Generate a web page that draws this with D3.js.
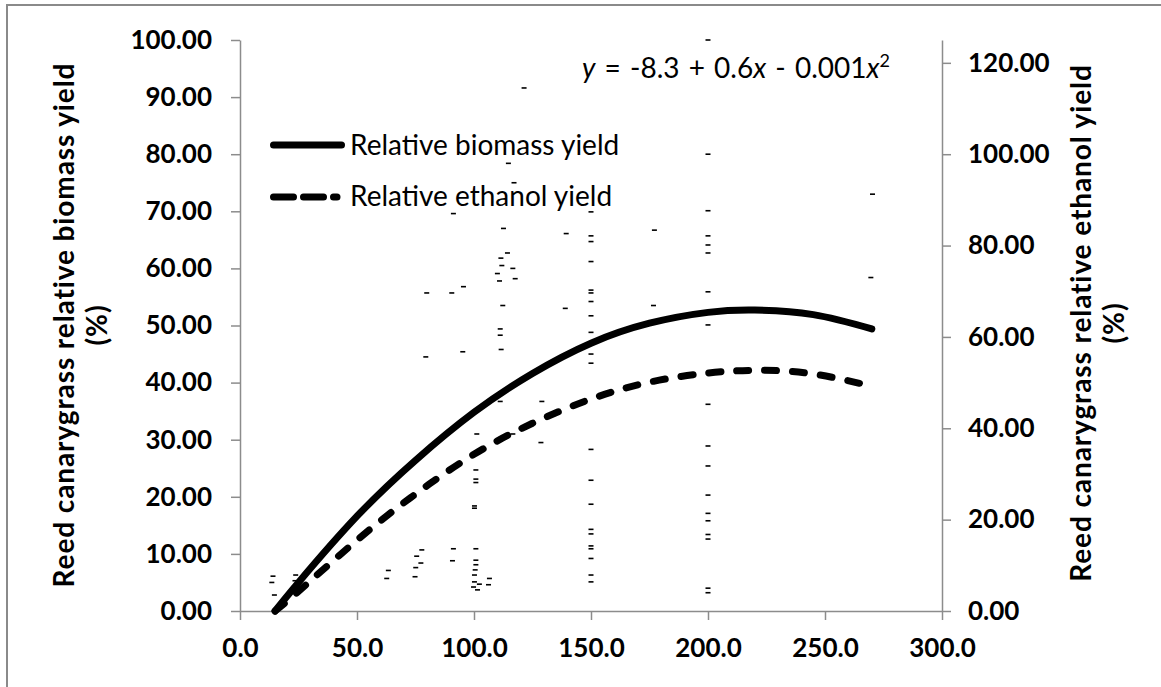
<!DOCTYPE html>
<html>
<head>
<meta charset="utf-8">
<script src="https://cdn.jsdelivr.net/npm/d3@7"></script>
<style>
  body { margin: 0; background: #fff; }
  svg { display: block; font-family: Lato, "Open Sans", sans-serif; }
</style>
</head>
<body>
<div id="chart"></div>
<script>
// fitted curves
var bioX = [15, 25, 50, 75, 100, 125, 150, 175, 200, 220, 245, 270];
var bioY = [0, 5.0, 16.6, 26.4, 34.8, 41.6, 46.9, 50.4, 52.3, 52.7, 51.9, 49.4];   // left axis
var ethX = [15, 25, 50, 75, 100, 125, 150, 175, 200, 222, 245, 270];
var ethY = [0, 4.3, 15.5, 25.6, 34.3, 41.1, 46.4, 50.1, 52.1, 52.7, 51.9, 49.2];   // right axis

// observed points (tiny dash markers)
var ptX = [121.4, 114.7, 117.1, 91.2, 150, 112.6, 139.4, 150, 150, 177.1, 114.3, 111.5, 111.9, 116.6, 110.0,
  117.6, 110.9, 150, 79.8, 90.5, 95.5, 150, 150, 150, 112.3, 139.0, 176.7, 200, 200, 200, 200, 200, 200, 200,
  270.3, 269.6, 150, 150, 150, 150, 200, 200, 200, 200, 200, 150, 150, 150, 111.2, 111.2, 95.2, 111.6, 79.4,
  111.2, 129.0, 101.2, 116.6, 128.6, 100.8, 100.8, 100.8, 100.2, 100.2, 150, 150, 150, 150, 150, 150, 150,
  14.1, 13.6, 14.7, 23.8, 23.5, 63.4, 62.7, 77.7, 75.5, 77.3, 75.1, 74.8, 91.2, 90.8, 100.8, 100.8, 100.8,
  100.5, 100.2, 100.2, 99.8, 101.5, 102.3, 106.2, 106.6, 200, 200, 200, 200, 200, 200];
var ptY = [91.6, 78.4, 75.0, 69.6, 69.9, 67.0, 66.1, 65.7, 64.7, 66.7, 62.7, 61.8, 60.5, 60.0, 59.1,
  58.2, 57.8, 61.2, 55.7, 55.7, 56.8, 56.2, 55.7, 54.2, 53.5, 53.0, 53.5, 100.0, 80.0, 70.1, 65.7, 64.1, 62.7, 55.9,
  73.0, 58.4, 51.7, 48.8, 45.0, 43.4, 50.1, 36.2, 28.9, 25.4, 20.3, 28.3, 22.9, 18.7, 49.4, 48.3, 45.4, 45.8, 44.5,
  36.7, 36.7, 31.0, 31.0, 29.5, 24.7, 23.1, 22.5, 18.4, 18.0, 14.3, 13.5, 11.4, 10.9, 9.2, 6.3, 5.1,
  6.1, 5.0, 2.8, 6.3, 5.3, 7.1, 5.7, 10.7, 9.6, 8.4, 7.6, 6.0, 10.9, 8.8, 10.9, 8.9, 8.1,
  7.2, 6.3, 5.1, 4.2, 3.7, 4.7, 4.6, 5.7, 17.1, 15.8, 13.4, 12.6, 4.0, 3.2];

var xTicks = [0, 50, 100, 150, 200, 250, 300];
var leftTicks = [0, 10, 20, 30, 40, 50, 60, 70, 80, 90, 100];
var rightTicks = [0, 20, 40, 60, 80, 100, 120];
var seriesNames = ["Relative biomass yield", "Relative ethanol yield"];
var leftTitle = ["Reed canarygrass relative biomass yield", "(%)"];
var rightTitle = ["Reed canarygrass relative ethanol yield", "(%)"];

var W = 1161, H = 687
  , margin = {top: 40, right: 219, bottom: 76, left: 240}
  , axisGrey = "#8c8c8c";

var svg = d3.select("#chart").append("svg")
    .attr("width", W)
    .attr("height", H);

// outer frame (only top and left edges show)
svg.append("path")
    .attr("d", "M7," + H + "V5H" + W)
    .attr("fill", "none")
    .attr("stroke", "#8a8a8a")
    .attr("stroke-width", 2);

var x = d3.scaleLinear().domain([0, 300]).range([margin.left, W - margin.right]);
var yL = d3.scaleLinear().domain([0, 100]).range([H - margin.bottom, margin.top]);
var yR = d3.scaleLinear().domain([0, 125]).range([H - margin.bottom, margin.top]);

// axes
var gx = svg.append("g")
    .attr("transform", "translate(0," + yL(0) + ")")
    .call(d3.axisBottom(x).tickValues(xTicks).tickFormat(d3.format(".1f")).tickSize(9).tickSizeOuter(0));
gx.selectAll("text").attr("dy", null).attr("y", 46);

var gl = svg.append("g")
    .attr("transform", "translate(" + x(0) + ",0)")
    .call(d3.axisLeft(yL).tickValues(leftTicks).tickFormat(d3.format(".2f")).tickSize(9).tickSizeOuter(0).tickPadding(19));

var gr = svg.append("g")
    .attr("transform", "translate(" + x(300) + ",0)")
    .call(d3.axisRight(yR).tickValues(rightTicks).tickFormat(d3.format(".2f")).tickSize(9).tickSizeOuter(0).tickPadding(17));

svg.selectAll(".domain, .tick line")
    .attr("stroke", axisGrey)
    .attr("stroke-width", 1.5);
svg.selectAll(".tick text")
    .attr("fill", "#000")
    .style("font-size", "26px")
    .style("font-weight", "bold")
    .style("font-family", "Lato, sans-serif");

// axis titles
function title(lines, tx, ty) {
  var t = svg.append("text")
      .attr("transform", "translate(" + tx + "," + ty + ") rotate(-90)")
      .attr("text-anchor", "middle")
      .style("font-size", "28px")
      .style("font-weight", "bold")
      .style("letter-spacing", "0.9px");
  t.selectAll("tspan").data(lines).enter().append("tspan")
      .attr("x", 0)
      .attr("y", function(d, i) { return i * 33; })
      .text(function(d) { return d; });
}
title(leftTitle, 74, 325);
title(rightTitle, 1091, 323);

// observed points
svg.append("g").selectAll("rect")
    .data(d3.range(ptX.length))
  .enter().append("rect")
    .attr("x", function(i) { return x(ptX[i]) - 2.5; })
    .attr("y", function(i) { return yL(ptY[i]) - 0.8; })
    .attr("width", 5)
    .attr("height", 1.6)
    .attr("fill", "#000");

// curves
var bioLine = d3.line()
    .x(function(i) { return x(bioX[i]); })
    .y(function(i) { return yL(bioY[i]); })
    .curve(d3.curveNatural);
var ethLine = d3.line()
    .x(function(i) { return x(ethX[i]); })
    .y(function(i) { return yR(ethY[i]); })
    .curve(d3.curveNatural);

svg.append("path")
    .attr("d", bioLine(d3.range(bioX.length)))
    .attr("fill", "none")
    .attr("stroke", "#000")
    .attr("stroke-width", 7)
    .attr("stroke-linecap", "round");
svg.append("path")
    .attr("d", ethLine(d3.range(ethX.length)))
    .attr("fill", "none")
    .attr("stroke", "#000")
    .attr("stroke-width", 7)
    .attr("stroke-linecap", "round")
    .attr("stroke-dasharray", "12,16");

// legend
var legend = svg.append("g");
legend.append("line")
    .attr("x1", 273.5).attr("x2", 341.5).attr("y1", 145).attr("y2", 145)
    .attr("stroke", "#000").attr("stroke-width", 7).attr("stroke-linecap", "round");
legend.append("line")
    .attr("x1", 273.5).attr("x2", 337).attr("y1", 197).attr("y2", 197)
    .attr("stroke", "#000").attr("stroke-width", 7).attr("stroke-linecap", "round")
    .attr("stroke-dasharray", "20,10");
legend.selectAll("text").data(seriesNames).enter().append("text")
    .attr("x", 350)
    .attr("y", function(d, i) { return 155 + i * 51; })
    .style("font-size", "28px")
    .text(function(d) { return d; });

// fitted equation
var eq = svg.append("text")
    .attr("x", 582)
    .attr("y", 78)
    .style("font-size", "28px")
    .style("word-spacing", "2px");
eq.append("tspan").style("font-style", "italic").text("y");
eq.append("tspan").text(" = -8.3 + 0.6");
eq.append("tspan").style("font-style", "italic").text("x");
eq.append("tspan").text(" - 0.001");
eq.append("tspan").style("font-style", "italic").text("x");
eq.append("tspan").attr("dy", -11).style("font-size", "18px").text("2");
</script>
</body>
</html>
